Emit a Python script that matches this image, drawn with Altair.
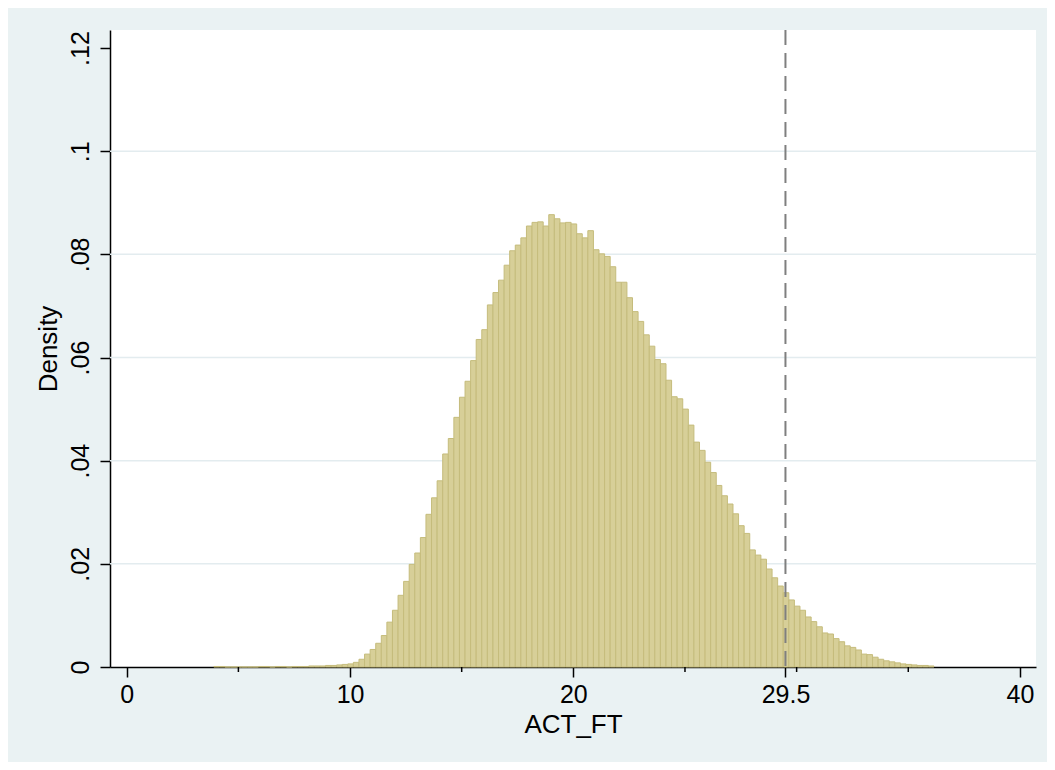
import altair as alt
import pandas as pd

# Histogram definition (Stata-style): bins of width 0.25 starting at 3.90
BIN_START = 3.90
BIN_WIDTH = 0.25
DENSITY = [
    0.0001, 0.0001, 0.0, 0.0, 0.0, 0.0, 0.0, 0.0, 0.0001, 0.0001,
    0.0, 0.0001, 0.0001, 0.0, 0.0001, 0.0001, 0.0001, 0.0002, 0.0002, 0.0002,
    0.0003, 0.0003, 0.0004, 0.0005, 0.0006, 0.0009, 0.0015, 0.0025, 0.0034, 0.0046,
    0.0061, 0.0087, 0.0110, 0.0139, 0.0166, 0.0199, 0.0221, 0.0251, 0.0296, 0.0328,
    0.0361, 0.0413, 0.0443, 0.0484, 0.0523, 0.0554, 0.0594, 0.0635, 0.0654, 0.0702,
    0.0726, 0.0750, 0.0779, 0.0807, 0.0818, 0.0832, 0.0855, 0.0862, 0.0863, 0.0855,
    0.0877, 0.0869, 0.0861, 0.0862, 0.0859, 0.0840, 0.0832, 0.0846, 0.0809, 0.0801,
    0.0796, 0.0776, 0.0746, 0.0746, 0.0716, 0.0689, 0.0670, 0.0644, 0.0622, 0.0596,
    0.0588, 0.0556, 0.0524, 0.0520, 0.0500, 0.0469, 0.0436, 0.0420, 0.0397, 0.0377,
    0.0352, 0.0332, 0.0316, 0.0297, 0.0274, 0.0259, 0.0227, 0.0217, 0.0209, 0.0190,
    0.0173, 0.0157, 0.0144, 0.0130, 0.0118, 0.0110, 0.0097, 0.0088, 0.0078, 0.0066,
    0.0064, 0.0055, 0.0049, 0.0041, 0.0038, 0.0033, 0.0025, 0.0024, 0.0019, 0.0015,
    0.0012, 0.0010, 0.0008, 0.0006, 0.0005, 0.0004, 0.0003, 0.0003, 0.0002,
]
X_LABELS = [0, 10, 20, 29.5, 40]
X_MINOR = [5, 15, 25, 30, 35]
Y_TICKS = [0, 0.02, 0.04, 0.06, 0.08, 0.10, 0.12]
Y_GRID = [0.02, 0.04, 0.06, 0.08, 0.10]
CUTOFF = [29.5]

starts = [round(BIN_START + i * BIN_WIDTH, 2) for i in range(len(DENSITY))]
df = pd.DataFrame({
    "start": starts,
    "end": [round(s + BIN_WIDTH, 2) for s in starts],
    "density": DENSITY,
})

W, H = 926, 637
FONT = "Liberation Sans"
xscale = alt.Scale(domain=[-0.75, 40.72], nice=False, zero=False)
yscale = alt.Scale(domain=[0, 0.1235], nice=False, zero=False)

x_axis = alt.Axis(
    values=X_LABELS, title="ACT_FT", grid=False,
    labelExpr="format(datum.value, '~g')",
    labelFont=FONT, titleFont=FONT, labelFontSize=25, titleFontSize=26,
    labelColor="black", titleColor="black", titleFontWeight="normal",
    domainColor="black", domainWidth=1.5, tickColor="black", tickWidth=1.5,
    tickSize=10, labelPadding=25.5, labelBaseline="alphabetic",
    labelFlush=False, labelOverlap=False,
    titleX=W / 2, titleY=65.3, titleAlign="center", titleBaseline="alphabetic",
)
y_axis = alt.Axis(
    values=Y_TICKS, title="Density", grid=False,
    labelExpr="replace(format(datum.value, '.2~f'), '0.', '.')",
    labelFont=FONT, titleFont=FONT, labelFontSize=25, titleFontSize=26,
    labelColor="black", titleColor="black", titleFontWeight="normal",
    domainColor="black", domainWidth=1.5, tickColor="black", tickWidth=1.5,
    tickSize=10, labelPadding=12, labelAngle=270, labelAlign="center",
    labelBaseline="alphabetic", labelFlush=False, labelOverlap=False,
    titleAngle=270, titleX=-53.3, titleY=H / 2, titleAlign="center",
    titleBaseline="alphabetic",
)

grid = alt.Chart(pd.DataFrame({"density": Y_GRID})).mark_rule(
    color="#E3ECEF", strokeWidth=1.5
).encode(
    y=alt.Y("density:Q", scale=yscale, axis=y_axis),
    x=alt.value(0),
    x2=alt.value(W),
)

bars = alt.Chart(df).mark_rect(
    fill="#D7CF98", stroke="#C5BC7C", strokeWidth=1
).encode(
    x=alt.X("start:Q", scale=xscale, axis=x_axis),
    x2="end:Q",
    y=alt.Y("density:Q", scale=yscale, axis=y_axis),
    y2=alt.datum(0),
)

cut = alt.Chart(pd.DataFrame({"start": CUTOFF})).mark_rule(
    color="#7F7F7F", strokeWidth=2, strokeDash=[15, 8]
).encode(
    x=alt.X("start:Q", scale=xscale, axis=x_axis),
    y=alt.value(0),
    y2=alt.value(H),
)

minor = alt.Chart(pd.DataFrame({"start": X_MINOR})).mark_rule(
    color="black", strokeWidth=1.5
).encode(
    x=alt.X("start:Q", scale=xscale, axis=x_axis),
    y=alt.value(H),
    y2=alt.value(H + 5),
)

chart = alt.layer(grid, bars, cut, minor).properties(
    width=W, height=H,
    autosize=alt.AutoSizeParams(type="none"),
    padding={"left": 102, "top": 22, "right": 11, "bottom": 95},
    background="#EAF2F3",
).configure_view(fill="white", strokeWidth=0)

chart.save("out.html", embed_options={"renderer": "svg", "actions": False})
